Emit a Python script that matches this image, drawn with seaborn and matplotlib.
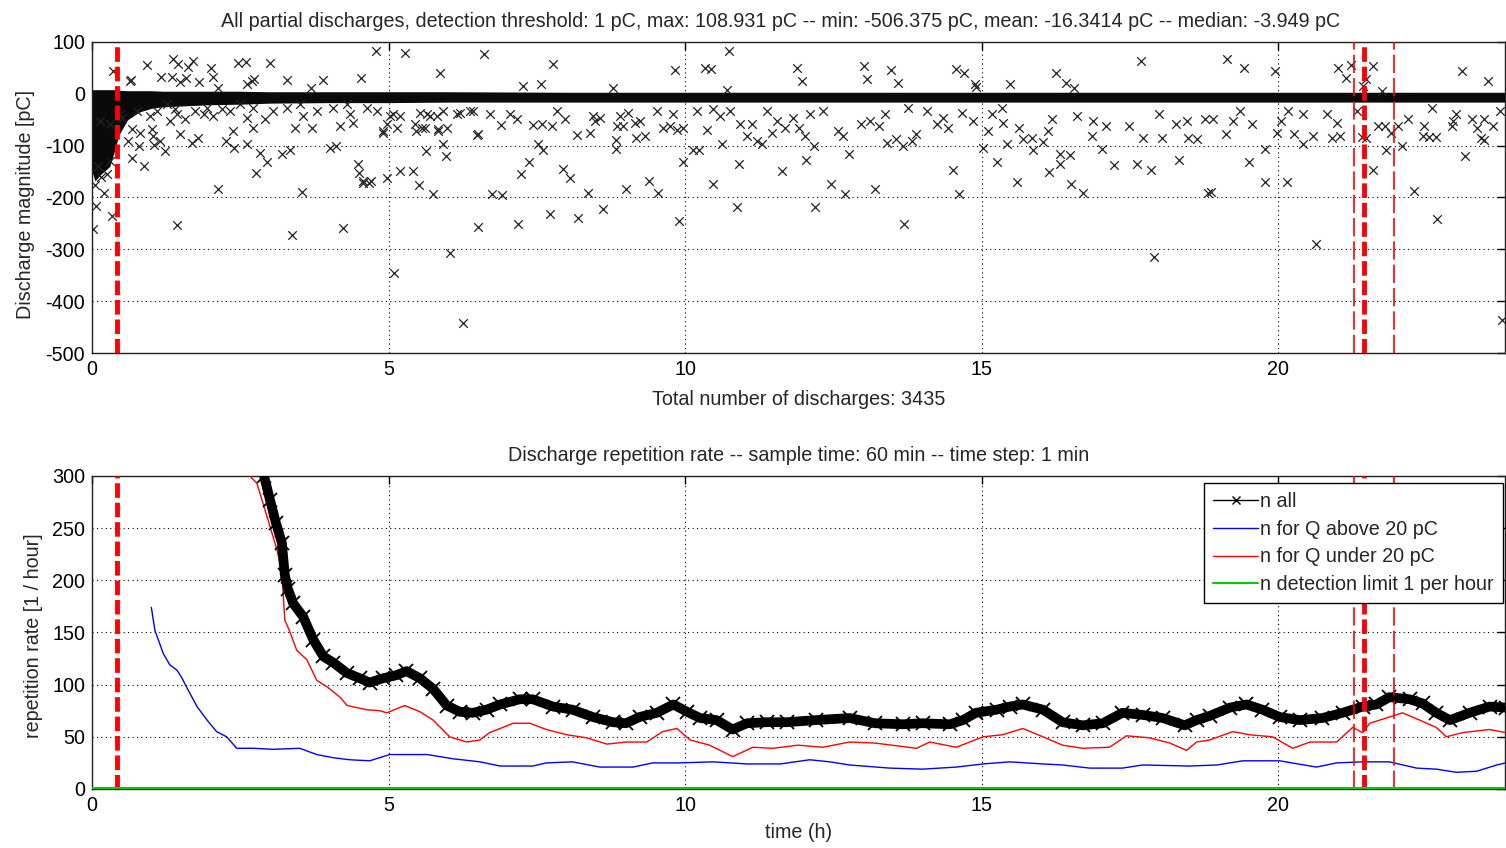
"""
    Partial discharge record, 24 h
    - scatter of all discharge magnitudes
    - repetition rate (60 min window, 1 min step)
"""

import numpy as np
import pandas as pd
import seaborn as sns
import matplotlib
matplotlib.use('Agg')
import matplotlib.pyplot as plt
from matplotlib.lines import Line2D

# ---- data ----
# dense band of small discharges (envelope, pC)
band_t = [0.0, 0.05, 0.15, 0.3, 0.38, 0.45, 0.6, 0.8, 1.0, 1.2, 1.6, 2.0, 2.5, 3.0, 4.0, 5.0,
          6.0, 8.0, 10.0, 12.0, 14.0, 16.0, 18.0, 20.0, 22.0, 24.0]
band_hi = [8, 8, 8, 8, 8, 7, 6, 6, 6, 5, 5, 5, 5, 4, 4, 4, 4, 3, 3, 3, 3, 3, 3, 3, 3, 3]
band_lo = [-150, -168, -155, -140, -110, -80, -50, -35, -28, -25, -23, -21, -20, -18, -17, -17,
           -16, -16, -16, -16, -16, -16, -16, -16, -16, -16]

# positive discharges
pos_t = [0.35, 0.93, 0.64, 0.66, 1.16, 1.36, 1.45, 1.35, 1.48, 1.58, 1.62, 1.70, 1.81, 2.0, 2.04,
         2.12, 2.46, 2.6, 2.61, 2.7, 2.73, 3.0, 3.28, 3.69, 3.89, 4.53, 4.78, 5.27, 5.86, 6.61,
         7.77, 7.26, 7.57, 8.78, 9.82, 10.33, 10.43, 10.73, 10.7, 11.88, 11.96, 13.01, 13.06,
         13.46, 13.58, 14.56, 14.7, 14.88, 14.9, 15.47, 16.25, 16.41, 16.55, 17.69, 19.13, 19.42,
         19.94, 21.01, 21.23, 21.13, 21.59, 21.48, 21.42, 23.09, 23.54, 21.74]
pos_q = [44, 56, 25, 27, 33, 67, 58, 33, 23, 31, 52, 64, 23, 50, 33,
         12, 60, 62, 19, 25, 29, 60, 27, 12, 27, 31, 83, 79, 41, 77,
         58, 15, 19, 12, 46, 50, 48, 83, 8, 50, 25, 54, 29,
         46, 21, 48, 41, 19, 14, 19, 41, 21, 12, 64, 68, 50,
         44, 50, 56, 31, 54, 29, 15, 44, 25, 6]

# large negative discharges
neg_t = [0.05, 0.1, 0.15, 0.25, 0.3, 0.5, 0.67, 0.81, 0.79, 0.88, 0.67, 0.61, 1.01, 1.03, 1.05,
         1.15, 1.23, 1.48, 1.68, 1.79, 2.12, 2.26, 2.38, 2.39, 2.61, 2.71, 2.76, 2.83, 2.95, 3.2,
         3.34, 3.54, 3.42, 3.7, 4.01, 4.11, 4.18, 4.48, 4.5, 4.57, 4.7, 4.9, 4.97, 5.19, 5.41,
         5.51, 5.63, 5.74, 5.57, 5.84, 5.91, 5.97, 6.5, 6.74,
         0.07, 0.2, 0.02, 0.34, 1.43, 3.37, 4.23, 4.57, 4.67, 5.09, 6.03, 6.25, 6.5,
         6.49, 6.91, 7.23, 7.18, 7.36, 7.52, 7.6, 7.72, 7.94, 8.06, 8.19, 8.36, 8.61, 8.83, 8.83,
         9.0, 9.17, 9.32, 9.39, 9.54, 9.89, 9.96, 10.47, 10.87, 10.9, 11.63, 10.62, 10.13, 10.23,
         10.36, 12.03, 12.17, 12.18, 12.45, 12.69, 12.76, 12.57, 12.66, 13.2, 13.69, 13.4, 13.55,
         13.67, 13.82, 13.89, 14.51, 14.61, 15.02, 15.25, 15.42, 15.59, 15.86, 16.03, 16.14,
         16.31, 16.31, 16.48, 16.51, 16.7, 16.85, 17.02, 17.22, 17.61, 17.85, 17.91, 18.32,
         17.71, 18.03, 18.47, 18.62, 18.81, 18.86, 19.11, 19.51, 19.77, 19.78, 19.97, 20.14,
         20.27, 20.41, 20.58, 20.63, 20.91, 21.03, 21.4, 21.48, 21.59, 21.67, 21.79, 21.81,
         21.89, 22.01, 22.09, 22.18, 22.28, 22.45, 22.43, 22.53, 22.65, 22.68, 22.92, 23.0,
         23.15, 23.34, 23.42, 23.47, 23.76]
neg_q = [-175, -140, -160, -155, -130, -46, -68, -75, -100, -139, -123, -91, -68, -81, -98,
         -91, -110, -77, -95, -85, -183, -91, -71, -104, -96, -66, -152, -114, -131, -116,
         -108, -189, -66, -66, -104, -100, -62, -135, -152, -168, -168, -75, -162, -149, -149,
         -176, -110, -193, -66, -68, -96, -120, -77, -193,
         -216, -191, -261, -236, -253, -272, -259, -172, -172, -346, -307, -442, -257,
         -79, -195, -154, -251, -131, -96, -108, -232, -145, -162, -239, -191, -222, -89, -106,
         -183, -85, -81, -168, -191, -245, -131, -174, -218, -135, -149, -96, -108, -108,
         -70, -127, -100, -218, -174, -193, -116, -71, -81, -183, -251, -95, -87,
         -100, -91, -77, -147, -193, -104, -131, -96, -170, -108, -93, -150,
         -135, -116, -118, -174, -191, -81, -106, -137, -135, -147, -315, -127,
         -85, -85, -85, -87, -191, -189, -77, -131, -170, -106, -75, -170,
         -77, -96, -81, -290, -85, -81, -83, -85, -147, -62, -62, -108,
         -75, -62, -100, -48, -187, -62, -81, -83, -83, -241, -62, -39,
         -120, -66, -85, -89, -436]

# small negative discharges just below the band
near_t = [0.13, 0.3, 0.47, 0.76, 0.98, 1.1, 1.26, 1.31, 1.4, 1.43, 1.57, 1.74, 1.88, 1.94, 2.04,
          2.19, 2.33, 2.49, 2.61, 2.71, 2.92, 3.05, 3.28, 3.51, 3.56, 3.79, 4.06, 4.3, 4.35,
          4.4, 4.63, 4.8, 4.9, 4.97, 5.02, 5.07, 5.14, 5.19, 5.44, 5.46, 5.53, 5.61, 5.65, 5.7,
          5.81, 5.83, 5.92, 5.98, 6.15, 6.2, 6.37, 6.42, 6.71, 6.89, 7.04, 7.16, 7.43, 7.58,
          7.75, 7.84, 7.97, 8.17, 8.39, 8.44, 8.48, 8.56, 8.85, 8.9, 8.95, 9.03, 9.15, 9.23,
          9.52, 9.62, 9.74, 9.79, 9.86, 9.96, 10.19, 10.47, 10.58, 10.75, 10.92, 11.04, 11.12,
          11.21, 11.29, 11.37, 11.46, 11.54, 11.68, 11.81, 11.91, 12.02, 12.1, 12.32, 12.96,
          13.11, 13.26, 13.36, 13.75, 14.07, 14.24, 14.34, 14.43, 14.66, 14.85, 15.1, 15.17,
          15.34, 15.35, 15.62, 15.69, 15.84, 16.11, 16.18, 16.6, 16.87, 17.09, 17.48, 17.98,
          18.28, 18.45, 18.76, 18.9, 19.23, 19.35, 19.55, 20.05, 20.16, 20.41, 20.81, 20.98,
          21.32, 22.58, 22.94, 23.27, 23.47, 23.61, 23.73]
near_q = [-52, -58, -39, -33, -42, -33, -19, -52, -29, -39, -48, -33, -39, -27, -42,
          -29, -33, -19, -46, -27, -48, -33, -27, -19, -42, -33, -27, -19, -39,
          -56, -27, -33, -71, -58, -42, -39, -66, -42, -58, -71, -37, -66, -39, -42,
          -42, -71, -33, -66, -39, -37, -33, -33, -39, -60, -39, -48, -60, -58,
          -62, -33, -48, -79, -75, -42, -52, -46, -62, -42, -62, -37, -56, -52,
          -33, -66, -62, -39, -70, -66, -33, -29, -42, -33, -58, -81, -58,
          -91, -96, -33, -75, -52, -66, -46, -66, -81, -39, -33, -58,
          -52, -62, -39, -27, -33, -58, -46, -66, -37, -52, -71, -39,
          -27, -56, -66, -87, -85, -71, -48, -42, -52, -62, -62, -39,
          -58, -52, -48, -48, -52, -33, -58, -52, -33, -39, -39, -56,
          -33, -27, -52, -48, -48, -62, -33]

# repetition rate, n all
rate_all_t = [2.7, 2.9, 3.0, 3.1, 3.2, 3.25, 3.3, 3.39, 3.56, 3.73, 3.9, 4.07, 4.3, 4.52, 4.68,
              4.9, 5.13, 5.3, 5.53, 5.75, 5.98, 6.2, 6.42, 6.65, 6.88, 7.21, 7.43, 7.77, 8.1,
              8.44, 8.78, 9.0, 9.23, 9.52, 9.8, 10.03, 10.25, 10.53, 10.8, 11.04, 11.37, 11.71,
              12.2, 12.77, 13.2, 13.67, 14.0, 14.46, 14.68, 14.9, 15.25, 15.47, 15.69, 16.03,
              16.36, 16.7, 17.04, 17.37, 17.71, 18.05, 18.42, 18.62, 18.84, 19.18, 19.46, 19.73,
              20.02, 20.36, 20.74, 21.08, 21.42, 21.65, 21.87, 22.21, 22.43, 22.66, 22.89, 23.22,
              23.56, 23.83]
rate_all = [340, 300, 277, 255, 236, 205, 192, 178, 165, 143, 127, 121, 111, 106, 102,
            106, 109, 113, 106, 96, 80, 74, 73, 76, 81, 86, 86, 79, 76,
            69, 64, 63, 69, 73, 81, 74, 68, 66, 57, 63, 64, 64,
            66, 68, 63, 62, 63, 62, 66, 73, 76, 79, 81, 76,
            64, 61, 63, 73, 71, 68, 61, 66, 70, 78, 81, 76,
            69, 66, 68, 73, 79, 81, 88, 86, 82, 73, 66, 73,
            79, 78]

# n for Q above 20 pC
rate_hi_t = [1.0, 1.06, 1.2, 1.31, 1.43, 1.51, 1.6, 1.77, 1.94, 2.1, 2.27, 2.44, 2.72, 3.05, 3.5,
             3.79, 4.06, 4.35, 4.68, 5.02, 5.2, 5.65, 6.08, 6.54, 6.88, 7.43, 7.66, 8.1, 8.56,
             9.12, 9.45, 9.9, 10.47, 11.04, 11.6, 12.1, 12.44, 12.77, 13.45, 14.0, 14.57, 15.02,
             15.47, 16.03, 16.36, 16.82, 17.37, 17.71, 18.5, 18.96, 19.4, 20.02, 20.64, 20.98,
             21.42, 21.87, 22.33, 22.66, 23.0, 23.34, 23.68, 23.83]
rate_hi = [174, 152, 130, 119, 114, 107, 97, 79, 66, 55, 50, 39, 39, 38, 39,
           33, 30, 28, 27, 33, 33, 33, 29, 26, 22, 22, 25, 26, 21,
           21, 25, 25, 26, 24, 24, 28, 26, 23, 20, 19, 21, 24,
           26, 24, 23, 20, 20, 23, 22, 23, 27, 27, 21, 25,
           26, 26, 20, 19, 16, 17, 23, 25]

# n for Q under 20 pC
rate_lo_t = [2.55, 2.66, 2.78, 2.95, 3.12, 3.2, 3.25, 3.34, 3.45, 3.62, 3.79, 3.96, 4.18, 4.3,
             4.63, 4.85, 4.97, 5.27, 5.53, 5.75, 6.03, 6.32, 6.54, 6.7, 6.88, 7.1, 7.38, 7.66,
             8.0, 8.34, 8.68, 9.0, 9.35, 9.62, 9.86, 10.08, 10.41, 10.8, 11.14, 11.48, 11.9,
             12.32, 12.77, 13.2, 13.9, 14.12, 14.57, 15.02, 15.35, 15.69, 16.03, 16.36, 16.7,
             17.15, 17.44, 17.83, 18.17, 18.45, 18.62, 18.84, 19.23, 19.51, 19.9, 20.24, 20.53,
             20.98, 21.25, 21.42, 21.54, 21.87, 22.09, 22.38, 22.66, 22.83, 23.1, 23.56, 23.83]
rate_lo = [320, 300, 293, 261, 229, 207, 162, 150, 133, 124, 104, 98, 88, 80,
           76, 75, 73, 80, 74, 66, 50, 45, 47, 54, 58, 63, 63, 57,
           52, 49, 43, 45, 45, 55, 58, 47, 42, 31, 40, 39, 42,
           40, 45, 44, 39, 45, 40, 50, 52, 58, 50, 42, 39,
           40, 51, 49, 44, 37, 45, 47, 55, 52, 50, 39, 45,
           45, 59, 54, 63, 69, 73, 66, 59, 50, 54, 57, 54]

# detection limit (1 per hour)
limit_t = [0, 23.83]
limit_n = [1, 1]

# marked instants (h)
mark_thick = [0.42, 21.44]
mark_thin = [21.27, 21.94]

t_end = 23.82

title_top = ('All partial discharges, detection threshold: 1 pC, max: 108.931 pC -- '
             'min: -506.375 pC, mean: -16.3414 pC -- median: -3.949 pC')
title_bot = 'Discharge repetition rate -- sample time: 60 min -- time step: 1 min'

# ---- style ----
sns.set_style('white')
plt.rcParams['font.family'] = ['Liberation Sans', 'DejaVu Sans']
plt.rcParams['axes.unicode_minus'] = False
FS = 14.2

fig = plt.figure(figsize=(15.06, 8.48), dpi=100)
ax1 = fig.add_axes([0.0611, 0.5837, 0.9383, 0.3668])
ax2 = fig.add_axes([0.0611, 0.0696, 0.9383, 0.3691])

def style_axes(ax):
    ax.grid(True, color='k', linestyle=(0, (1, 3)), linewidth=0.8)
    ax.set_axisbelow(True)
    ax.tick_params(direction='in', length=6, width=1, top=True, right=True,
                   colors='k', labelsize=FS, pad=5)
    for s in ax.spines.values():
        s.set_color('#222')
        s.set_linewidth(1.0)
    ax.set_xlim(0, t_end)
    ax.set_xticks([0, 5, 10, 15, 20])

def draw_marks(ax):
    for t in mark_thick:
        ax.axvline(t, color='#ff0000', lw=3.5, ls=(0, (3.0, 1.0)), zorder=4)
    for t in mark_thin:
        ax.axvline(t, color='#ff0000', lw=1.2, ls=(0, (11, 3)), zorder=4)

# ---- top: discharges ----
style_axes(ax1)
ax1.fill_between(band_t, band_lo, band_hi, color='#0a0a0a', lw=0, zorder=2)
pts = pd.concat([
    pd.DataFrame({'t': pos_t, 'q': pos_q}),
    pd.DataFrame({'t': neg_t, 'q': neg_q}),
    pd.DataFrame({'t': near_t, 'q': near_q}),
])
sns.scatterplot(data=pts, x='t', y='q', marker='x', color='#222', s=38,
                linewidth=0.9, ax=ax1, zorder=3)
draw_marks(ax1)
ax1.set_ylim(-500, 100)
ax1.set_yticks(range(-500, 101, 100))
ax1.set_title(title_top, fontsize=FS, pad=11, x=0.487)
ax1.set_xlabel('Total number of discharges: 3435', fontsize=FS, labelpad=8)
ax1.set_ylabel('Discharge magnitude [pC]', fontsize=FS)
ax1.yaxis.set_label_coords(-0.040, 0.476)

# ---- bottom: repetition rate ----
style_axes(ax2)
sns.lineplot(x=limit_t, y=limit_n, color='#00cc00', lw=2.2, ax=ax2, zorder=5)
sns.lineplot(x=rate_hi_t, y=rate_hi, color='#0000ff', lw=1.0, estimator=None, sort=False,
             ax=ax2, zorder=3)
sns.lineplot(x=rate_lo_t, y=rate_lo, color='#ff0000', lw=1.0, estimator=None, sort=False,
             ax=ax2, zorder=3)
sns.lineplot(x=rate_all_t, y=rate_all, color='k', lw=7, estimator=None, sort=False,
             ax=ax2, zorder=3)
sns.lineplot(x=rate_all_t, y=rate_all, color='k', lw=1, marker='x', markersize=10,
             markeredgewidth=1.3, markeredgecolor='k', estimator=None, sort=False,
             ax=ax2, zorder=3)
draw_marks(ax2)
ax2.set_ylim(0, 300)
ax2.set_yticks(range(0, 301, 50))
ax2.set_title(title_bot, fontsize=FS, pad=11)
ax2.set_xlabel('time (h)', fontsize=FS, labelpad=6)
ax2.set_ylabel('repetition rate [1 / hour]', fontsize=FS)
ax2.yaxis.set_label_coords(-0.0345, 0.489)

handles = [
    Line2D([], [], color='k', lw=1, marker='x', markersize=6),
    Line2D([], [], color='#0000ff', lw=1),
    Line2D([], [], color='#ff0000', lw=1),
    Line2D([], [], color='#00cc00', lw=1.5),
]
labels = ['n all', 'n for Q above 20 pC', 'n for Q under 20 pC', 'n detection limit 1 per hour']
leg = ax2.legend(handles, labels, loc='upper left', bbox_to_anchor=(0.787, 0.978),
                 fontsize=FS, frameon=True, fancybox=False, framealpha=1,
                 edgecolor='k', handlelength=2.3, handletextpad=0.1, borderpad=0.45,
                 labelspacing=0.45, borderaxespad=0)
leg.get_frame().set_linewidth(1.0)
leg.set_zorder(10)

fig.savefig('out.png', dpi=100)
